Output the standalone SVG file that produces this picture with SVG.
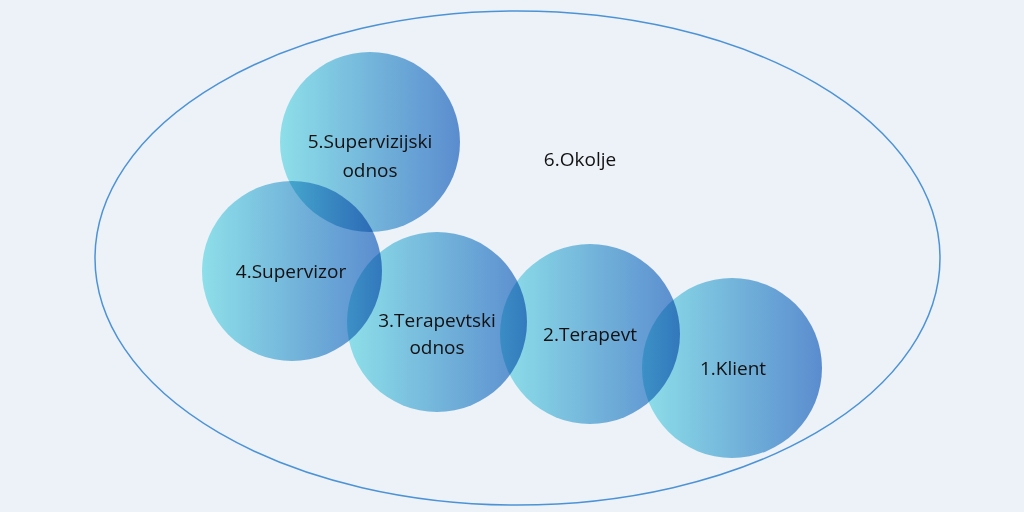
<svg xmlns="http://www.w3.org/2000/svg" width="1024" height="512" viewBox="0 0 1024 512">
<defs>
<linearGradient id="g" x1="0" y1="0" x2="1" y2="0">
<stop offset="0" stop-color="#98EBEF"/>
<stop offset="1" stop-color="#6194D3"/>
</linearGradient>
<style>
.c{fill:url(#g);mix-blend-mode:multiply}
.t{font-family:"Open Sans","Noto Sans","Liberation Sans",sans-serif;font-size:19px;fill:#111;text-anchor:middle}
</style>
</defs>
<rect width="1024" height="512" fill="#EDF2F9"/>
<g id="okolje">
<ellipse cx="517.5" cy="258" rx="422.5" ry="247" fill="none" stroke="#4C93D6" stroke-width="1.5"/>
<text class="t" x="580" y="166">6.Okolje</text>
</g>
<g id="n5">
<circle class="c" cx="370" cy="142" r="90"/>
<text class="t" x="370" y="148">5.Supervizijski</text>
<text class="t" x="370" y="177">odnos</text>
</g>
<g id="n4">
<circle class="c" cx="292" cy="271" r="90"/>
<text class="t" x="291" y="278">4.Supervizor</text>
</g>
<g id="n3">
<circle class="c" cx="437" cy="322" r="90"/>
<text class="t" x="437" y="327">3.Terapevtski</text>
<text class="t" x="437" y="354">odnos</text>
</g>
<g id="n2">
<circle class="c" cx="590" cy="334" r="90"/>
<text class="t" x="590" y="341">2.Terapevt</text>
</g>
<g id="n1">
<circle class="c" cx="732" cy="368" r="90"/>
<text class="t" x="733" y="375">1.Klient</text>
</g>
<g id="connectors"/>
</svg>
